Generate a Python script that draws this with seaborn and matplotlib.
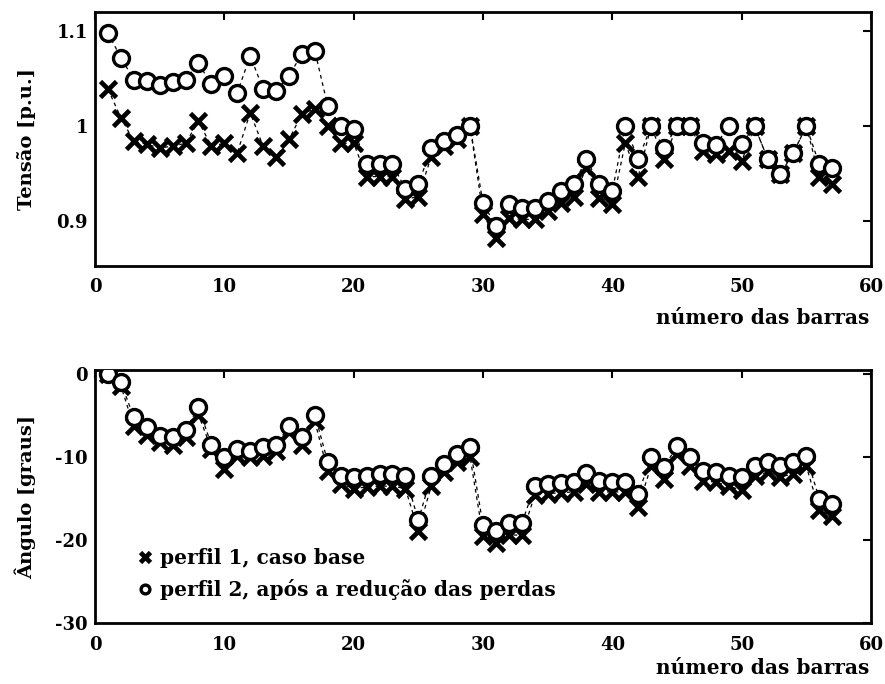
import numpy as np
import pandas as pd
import matplotlib
matplotlib.use("Agg")
import matplotlib.pyplot as plt
import seaborn as sns

# ---------------- data ----------------
barras = list(range(1, 58))

tensao_p1 = [1.039, 1.009, 0.984, 0.981, 0.977, 0.979, 0.982, 1.005, 0.979, 0.982,
             0.972, 1.014, 0.979, 0.968, 0.986, 1.013, 1.018, 1.000, 0.982, 0.982,
             0.947, 0.947, 0.947, 0.923, 0.926, 0.968, 0.979, 0.986, 1.000, 0.908,
             0.882, 0.903, 0.902, 0.902, 0.911, 0.919, 0.926, 0.956, 0.925, 0.918,
             0.982, 0.947, 1.000, 0.965, 1.000, 1.000, 0.974, 0.971, 0.974, 0.963,
             1.000, 0.966, 0.950, 0.972, 1.000, 0.947, 0.939]

tensao_p2 = [1.098, 1.072, 1.049, 1.047, 1.043, 1.046, 1.049, 1.066, 1.044, 1.053,
             1.035, 1.074, 1.039, 1.037, 1.053, 1.076, 1.079, 1.021, 1.000, 0.997,
             0.960, 0.960, 0.960, 0.934, 0.939, 0.977, 0.984, 0.991, 1.000, 0.919,
             0.895, 0.918, 0.914, 0.914, 0.921, 0.932, 0.939, 0.965, 0.939, 0.932,
             1.000, 0.965, 1.000, 0.977, 1.000, 1.000, 0.982, 0.980, 1.000, 0.981,
             1.000, 0.966, 0.950, 0.972, 1.000, 0.960, 0.956]

angulo_p1 = [0.0, -1.4, -6.3, -7.3, -8.2, -8.5, -7.6, -4.9, -9.0, -11.4,
             -9.9, -10.0, -9.9, -9.3, -7.0, -8.5, -5.7, -11.7, -13.2, -13.8,
             -13.6, -13.5, -13.5, -13.8, -18.9, -13.5, -11.8, -10.6, -10.0, -19.5,
             -20.4, -19.4, -19.4, -14.6, -14.4, -14.3, -14.2, -13.2, -14.2, -14.2,
             -14.2, -16.0, -11.1, -12.6, -9.6, -11.1, -12.9, -13.0, -13.5, -14.0,
             -12.3, -11.8, -12.4, -12.0, -11.1, -16.4, -17.1]

angulo_p2 = [0.0, -1.0, -5.2, -6.4, -7.5, -7.6, -6.7, -4.0, -8.5, -10.0,
             -9.0, -9.3, -8.8, -8.5, -6.3, -7.6, -4.9, -10.6, -12.3, -12.4,
             -12.3, -12.0, -12.0, -12.3, -17.6, -12.3, -10.8, -9.6, -8.8, -18.2,
             -18.9, -18.0, -18.0, -13.5, -13.2, -13.1, -13.0, -11.9, -12.9, -13.0,
             -13.0, -14.4, -10.0, -11.2, -8.7, -10.0, -11.7, -11.8, -12.3, -12.4,
             -11.1, -10.6, -11.1, -10.6, -9.9, -15.0, -15.6]

legenda = ["perfil 1, caso base", "perfil 2, após a redução das perdas"]
xlabel = "número das barras"

df = pd.DataFrame({"barra": barras, "v1": tensao_p1, "v2": tensao_p2,
                   "a1": angulo_p1, "a2": angulo_p2})

# ---------------- style ----------------
sns.set_style("white")
plt.rcParams["font.family"] = ["DejaVu Serif"]
plt.rcParams["font.weight"] = "bold"
plt.rcParams["axes.labelweight"] = "bold"
plt.rcParams["axes.unicode_minus"] = False
for k in ["text.color", "axes.labelcolor", "xtick.color", "ytick.color",
          "axes.edgecolor"]:
    plt.rcParams[k] = "black"

fig = plt.figure(figsize=(8.85, 6.84), dpi=100)
W, H = 885, 684
def box(l, t, r, b):
    return [l / W, 1 - b / H, (r - l) / W, (b - t) / H]

ax1 = fig.add_axes(box(95, 12, 871, 266))
ax2 = fig.add_axes(box(95, 370, 871, 623))

line_kw = dict(color="black", linewidth=0.9, linestyle=(0, (3, 3)))
x_kw = dict(marker="x", markersize=12, markeredgewidth=3.4,
            markeredgecolor="black")
o_kw = dict(marker="o", markersize=11.5, markeredgewidth=2.4,
            markerfacecolor="white", markeredgecolor="black")

for ax, c1, c2 in [(ax1, "v1", "v2"), (ax2, "a1", "a2")]:
    sns.lineplot(data=df, x="barra", y=c1, ax=ax, **line_kw, **x_kw,
                 label=legenda[0], zorder=2)
    sns.lineplot(data=df, x="barra", y=c2, ax=ax, **line_kw, **o_kw,
                 label=legenda[1], zorder=3)

ax1.set_xlim(0, 60)
ax1.set_ylim(0.853, 1.12)
ax1.set_yticks([0.9, 1.0, 1.1])
ax1.set_yticklabels(["0.9", "1", "1.1"])
ax2.set_xlim(0, 60)
ax2.set_ylim(-30, 0.5)
ax2.set_yticks([-30, -20, -10, 0])

for ax, ylab in [(ax1, "Tensão [p.u.]"), (ax2, "Ângulo [graus]")]:
    ax.set_xticks([0, 10, 20, 30, 40, 50, 60])
    ax.tick_params(direction="in", length=6, width=1.5, top=True, right=True,
                   labelsize=13, colors="black")
    ax.tick_params(axis="x", pad=9)
    ax.tick_params(axis="y", pad=5)
    for lab in ax.get_xticklabels() + ax.get_yticklabels():
        lab.set_fontweight("bold")
    for s in ax.spines.values():
        s.set_linewidth(2)
        s.set_color("black")
    ax.set_ylabel(ylab, fontsize=14, fontweight="bold", color="black")
    ax.yaxis.set_label_coords(-0.076, 0.5)
    ax.set_xlabel("")

fig.text(869 / W, 1 - 318 / H, xlabel, ha="right", va="center",
         fontsize=14.5, fontweight="bold", color="black")
fig.text(869 / W, 1 - 668 / H, xlabel, ha="right", va="center",
         fontsize=14.5, fontweight="bold", color="black")

ax1.get_legend().remove()
leg = ax2.legend(loc="lower left", bbox_to_anchor=(0.057, 0.09), frameon=False,
                 handlelength=0.6, handletextpad=0.45, labelspacing=0.55,
                 borderpad=0, borderaxespad=0,
                 markerscale=0.55, prop={"family": ["DejaVu Serif"],
                                         "weight": "bold", "size": 14.5})
for h in leg.legend_handles:
    h.set_linestyle("None")
for t in leg.get_texts():
    t.set_color("black")

fig.savefig("out.png", dpi=100)
